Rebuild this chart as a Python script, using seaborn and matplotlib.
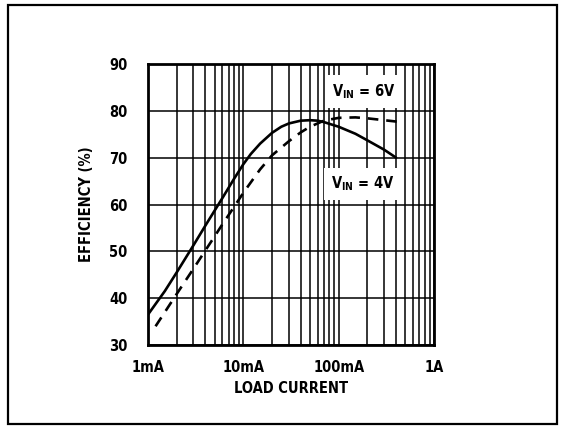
import matplotlib
matplotlib.use("Agg")
import matplotlib.pyplot as plt
from matplotlib import font_manager
from matplotlib.patches import Rectangle
from matplotlib.ticker import FixedLocator, NullFormatter
import pandas as pd
import seaborn as sns

# Efficiency vs load current, two input voltages
load_4v_ma = [1.0, 1.5, 2.0, 3.0, 4.0, 5.0, 6.0, 8.0, 10.0, 12.0, 15.0, 20.0, 25.0, 30.0,
              40.0, 50.0, 60.0, 70.0, 100.0, 150.0, 200.0, 300.0, 400.0]
eff_4v = [36.5, 41.5, 45.5, 51.3, 55.5, 58.7, 61.3, 65.5, 68.6, 70.8, 73.0, 75.3, 76.6, 77.3,
          77.9, 78.0, 77.9, 77.6, 76.6, 75.1, 73.7, 71.7, 70.0]

load_6v_ma = [1.2, 1.5, 2.0, 3.0, 4.0, 5.0, 6.0, 8.0, 10.0, 15.0, 20.0, 30.0, 40.0, 50.0,
              70.0, 100.0, 150.0, 200.0, 300.0, 450.0]
eff_6v = [34.0, 37.0, 40.9, 46.3, 50.2, 53.2, 55.7, 59.5, 62.5, 67.5, 70.5, 73.5, 75.4, 76.6,
          77.9, 78.5, 78.6, 78.4, 78.0, 77.6]

series_labels = ["VIN = 4V", "VIN = 6V"]
x_ticks_ma = [1, 10, 100, 1000]
x_tick_labels = ["1mA", "10mA", "100mA", "1A"]
y_ticks = [30, 40, 50, 60, 70, 80, 90]

df = pd.concat([
    pd.DataFrame({"load": load_4v_ma, "eff": eff_4v, "vin": series_labels[0]}),
    pd.DataFrame({"load": load_6v_ma, "eff": eff_6v, "vin": series_labels[1]}),
], ignore_index=True)

sns.set_style("white")
names = {f.name for f in font_manager.fontManager.ttflist}
family = "Liberation Sans Narrow" if "Liberation Sans Narrow" in names else "DejaVu Sans"
plt.rcParams["font.family"] = [family, "DejaVu Sans"]
plt.rcParams["font.stretch"] = "condensed"
plt.rcParams["font.weight"] = "bold"
plt.rcParams["mathtext.default"] = "regular"
for key in ("text.color", "axes.labelcolor", "xtick.color", "ytick.color"):
    plt.rcParams[key] = "black"

fig = plt.figure(figsize=(5.67, 4.32), dpi=100)
ax = fig.add_axes([148 / 567, 1 - 345 / 432, (434 - 148) / 567, (345 - 64) / 432])

sns.lineplot(data=df, x="load", y="eff", style="vin", color="black",
             dashes={series_labels[0]: "", series_labels[1]: (4, 3)},
             linewidth=1.9, legend=False, ax=ax, sort=False, zorder=4)

ax.set_xscale("log")
ax.set_xlim(1, 1000)
ax.set_ylim(30, 90)

ax.xaxis.set_major_locator(FixedLocator(x_ticks_ma))
ax.set_xticklabels(x_tick_labels)
minor = [m * d for d in (1, 10, 100) for m in range(2, 10)]
ax.xaxis.set_minor_locator(FixedLocator(minor))
ax.xaxis.set_minor_formatter(NullFormatter())
ax.set_yticks(y_ticks)

ax.grid(True, which="both", axis="x", color="black", linewidth=1.1)
ax.grid(True, which="major", axis="y", color="black", linewidth=1.1)
ax.tick_params(axis="both", which="both", length=0, labelsize=10.5)
ax.tick_params(axis="x", pad=11)
ax.tick_params(axis="y", pad=15)
for s in ax.spines.values():
    s.set_visible(True)
    s.set_color("black")
    s.set_linewidth(2.0)

ax.set_xlabel("LOAD CURRENT", fontsize=10.5, fontweight="bold", labelpad=4)
ax.set_ylabel("EFFICIENCY (%)", fontsize=10.5, fontweight="bold", labelpad=11)

box = dict(facecolor="white", edgecolor="none", pad=5)
ax.text(183, 84.2, "V$_{IN}$ = 6V", ha="center", va="center",
        fontsize=10.5, fontweight="bold", bbox=box, zorder=5)
ax.text(180, 64.4, "V$_{IN}$ = 4V", ha="center", va="center",
        fontsize=10.5, fontweight="bold", bbox=box, zorder=5)

fig.patches.append(Rectangle((8 / 567, 1 - 424 / 432), (557 - 8) / 567, (424 - 5) / 432,
                             transform=fig.transFigure, fill=False,
                             edgecolor="black", linewidth=1.6))

fig.savefig("out.png", dpi=100)
